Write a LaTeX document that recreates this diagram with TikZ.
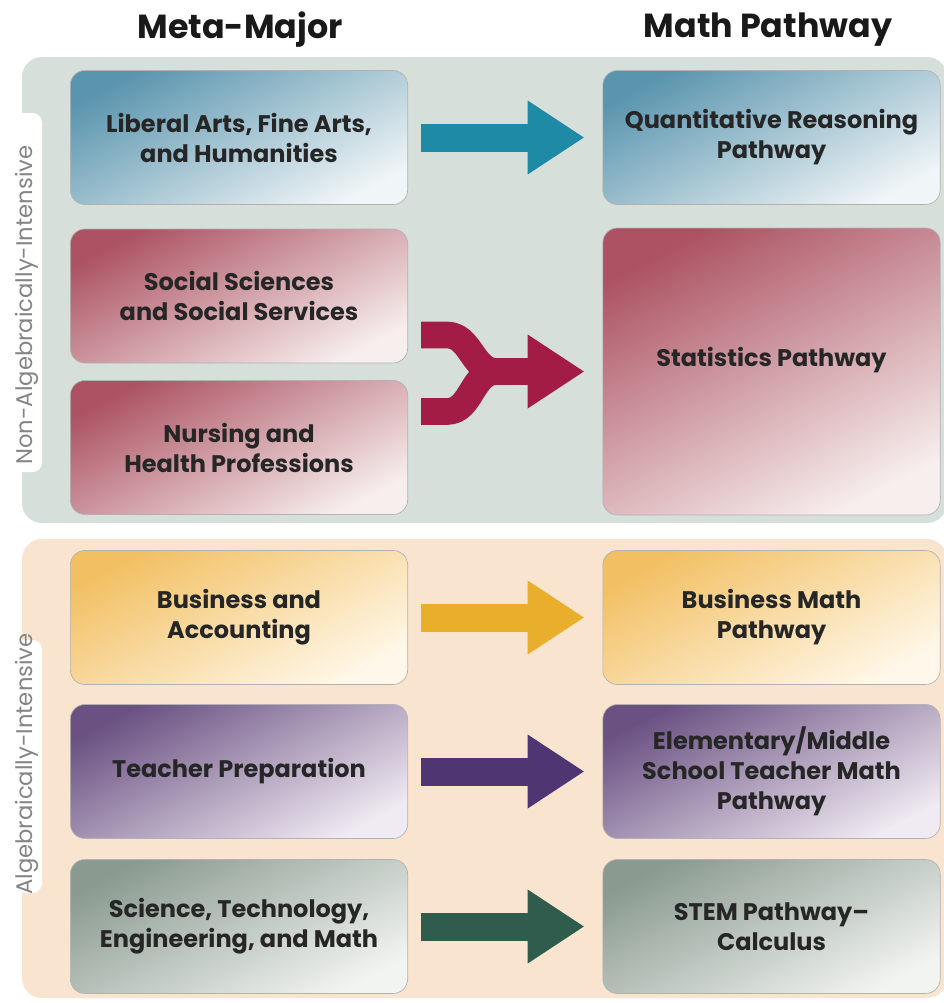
\documentclass[tikz,border=0pt]{standalone}
\usepackage{fontspec}
\setmainfont{Poppins}
\usepackage{tikz}
\usetikzlibrary{positioning}
\usetikzlibrary{calc}
\usetikzlibrary{arrows.meta}

\definecolor{panelA}{HTML}{D7DFDB}
\definecolor{panelB}{HTML}{F9E4D0}
\definecolor{blueA}{HTML}{5A95AE}
\definecolor{blueB}{HTML}{F0F5F7}
\definecolor{redA}{HTML}{AC5262}
\definecolor{redB}{HTML}{F7EFEE}
\definecolor{goldA}{HTML}{F2BF62}
\definecolor{goldB}{HTML}{FFF8EA}
\definecolor{purpA}{HTML}{6A5182}
\definecolor{purpB}{HTML}{F0EAF2}
\definecolor{sageA}{HTML}{8A9A90}
\definecolor{sageB}{HTML}{F2F4F1}
\definecolor{tealarr}{HTML}{1F8AA5}
\definecolor{redarr}{HTML}{A31C46}
\definecolor{goldarr}{HTML}{E9AE2C}
\definecolor{purparr}{HTML}{4F3571}
\definecolor{sagearr}{HTML}{2F5C4C}
\definecolor{sidegray}{HTML}{858585}
\colorlet{boxtop}{white}
\colorlet{boxbot}{white}
\pgfdeclareverticalshading[boxtop,boxbot]{boxshade}{100bp}{color(0bp)=(boxbot); color(24bp)=(boxbot); color(76bp)=(boxtop); color(100bp)=(boxtop)}

\tikzset{
  box/.style={rounded corners=11pt, minimum width=253pt, minimum height=100.5pt,
    inner sep=0pt, align=center, text=black!85, draw=black!30, line width=0.5pt,
    font=\fontsize{18}{22.5}\selectfont\bfseries},
  shadebox/.style 2 args={box, /utils/exec={\colorlet{boxtop}{#1}\colorlet{boxbot}{#2}},
    shade, shading=boxshade, shading angle=28},
  bluebox/.style={shadebox={blueA}{blueB}},
  redbox/.style={shadebox={redA}{redB}},
  goldbox/.style={shadebox={goldA}{goldB}},
  purpbox/.style={shadebox={purpA}{purpB}},
  sagebox/.style={shadebox={sageA}{sageB}},
  bigarrow/.style={line width=21pt, shorten <=9.75pt, shorten >=13.5pt,
    -{Triangle[length=42.75pt, width=52.5pt]}},
  forkline/.style={line width=20pt, line join=round, color=redarr},
  heading/.style={font=\fontsize{25}{30}\selectfont\bfseries, text=black!90},
  sidelabel/.style={rotate=90, font=\fontsize{17}{20}\selectfont, text=sidegray},
}

\begin{document}
\begin{tikzpicture}[x=0.75pt, y=-0.75pt]
\useasboundingbox (0,0) rectangle (943,1003);

% panels
\fill[panelA, rounded corners=15pt] (22,57) rectangle (947,523);
\fill[panelB, rounded corners=15pt] (22,539) rectangle (947,998);
\fill[white, rounded corners=7pt] (-20,113) rectangle (42,472);
\fill[white, rounded corners=7pt] (-20,640) rectangle (42,893);
\node[sidelabel] (nonalg) at (27,305) {Non-Algebraically-Intensive};
\node[sidelabel] (alg) at (27,764) {Algebraically-Intensive};

% headings
\node[heading] (meta) at (240,30) {Meta-Major};
\node[heading] (path) at (768,30) {Math Pathway};

% meta-majors
\node[bluebox] (lib) at (239,137.5) {Liberal Arts, Fine Arts,\\and Humanities};
\node[redbox] (soc) at (239,296) {Social Sciences\\and Social Services};
\node[redbox] (nur) at (239,447.5) {Nursing and\\Health Professions};
\node[goldbox] (bus) at (239,617.5) {Business and\\Accounting};
\node[purpbox] (tea) at (239,771.5) {Teacher Preparation};
\node[sagebox] (stem) at (239,926.5) {Science, Technology,\\Engineering, and Math};

% pathways
\node[bluebox] (qr) at (771.5,137.5) {Quantitative Reasoning\\Pathway};
\node[redbox, minimum height=215.25pt,
  label={[yshift=8.6pt, font=\fontsize{18}{22.5}\selectfont\bfseries, text=black!85]center:Statistics Pathway}]
  (stat) at (771.5,371.5) {};
\node[goldbox] (busm) at (771.5,617.5) {Business Math\\Pathway};
\node[purpbox] (elem) at (771.5,771.5) {Elementary/Middle\\School Teacher Math\\Pathway};
\node[sagebox] (calc) at (771.5,926.5) {STEM Pathway--\\Calculus};

% arrows
\draw[bigarrow, tealarr] (lib) -- (qr);
\draw[bigarrow, goldarr] (bus) -- (busm);
\draw[bigarrow, purparr] (tea) -- (elem);
\draw[bigarrow, sagearr] (stem) -- (calc);

% merging arrow
\coordinate (fork) at ($(stat.west)+(-106,0)$);
\draw[forkline] ($(nur.east)+(13,-36)$) -- ++(26,0) to[out=0,in=180] (fork) -- ++(20,0);
\draw[forkline, shorten >=13.5pt, -{Triangle[length=42.75pt, width=52.5pt]}]
  ($(soc.east)+(13,39)$) -- ++(26,0) to[out=0,in=180] (fork) -- (stat.west);
\end{tikzpicture}
\end{document}
